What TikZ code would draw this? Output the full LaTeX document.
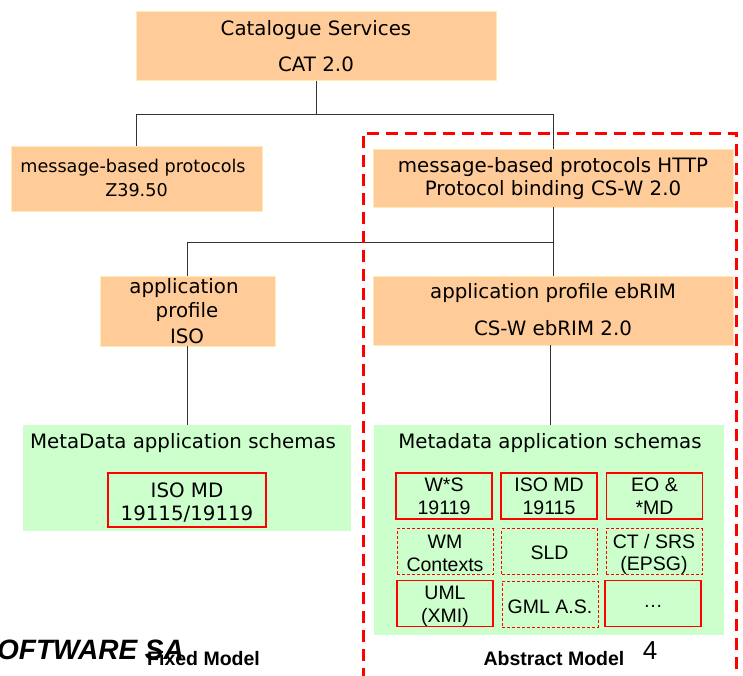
\documentclass[tikz,border=0pt]{standalone}
\usepackage{fontspec}
\setmainfont{DejaVu Sans}
\newfontfamily\arial{Liberation Sans}
\begin{document}
\begin{tikzpicture}[x=1pt,y=-1pt,
  peach/.style={rectangle,inner sep=0pt,outer sep=0pt,fill=peachc,draw=peachb,line width=0.8pt},
  green/.style={rectangle,inner sep=0pt,outer sep=0pt,fill=greenc},
  cell/.style={rectangle,inner sep=0pt,outer sep=0pt,draw=red,line width=1.1pt,minimum width=96pt,minimum height=46pt},
  dcell/.style={cell,line width=0.8pt,dash pattern=on 3pt off 2pt},
  txt/.style={inner sep=0pt,font=\fontsize{19.8}{22}\selectfont,anchor=center},
  stxt/.style={txt,font=\fontsize{17.6}{20}\selectfont},
  gtxt/.style={inner sep=0pt,font=\arial\fontsize{19.5}{21}\selectfont,anchor=center},
  conn/.style={draw=black!80,line width=1pt}]
\definecolor{peachc}{HTML}{FFCC99}
\definecolor{peachb}{HTML}{FFEBB5}
\definecolor{greenc}{HTML}{CCFFCC}
\useasboundingbox (0,0) rectangle (743,675);

% boxes
\node[peach,minimum width=360pt,minimum height=69pt] (cat) at (316,46) {};
\node[peach,minimum width=251pt,minimum height=65pt] (z39) at (136.5,178.5) {};
\node[peach,minimum width=360pt,minimum height=58pt] (http) at (553,178) {};
\node[peach,minimum width=175pt,minimum height=70pt] (iso) at (187.5,311) {};
\node[peach,minimum width=360pt,minimum height=69pt] (ebrim) at (553,310.5) {};
\node[green,minimum width=328pt,minimum height=106pt] (mdl) at (187,478) {};
\node[green,minimum width=350pt,minimum height=210pt] (mdr) at (549,530) {};
\node[cell,minimum width=158pt,minimum height=54pt] (isomd) at (187,500) {};

% grid cells
\node[cell] (c11) at (444,496) {};
\node[cell] (c12) at (549,496) {};
\node[cell] (c13) at (654.5,496) {};
\node[dcell] (c21) at (445,551.5) {};
\node[dcell] (c22) at (549.5,551.5) {};
\node[dcell] (c23) at (654,551.5) {};
\node[cell] (c31) at (445,603.5) {};
\node[dcell] (c32) at (550,604) {};
\node[cell] (c33) at (653,603.5) {};

% texts
\node[txt] (t1) at (316,30) {Catalogue Services};
\node[txt] (t2) at (316,64) {CAT 2.0};
\node[stxt] (t3) at (133,168) {message-based protocols};
\node[stxt] (t4) at (136.5,190) {Z39.50};
\node[txt] (t5) at (553,167) {message-based protocols HTTP};
\node[txt] (t6) at (553,190) {Protocol binding CS-W 2.0};
\node[txt] (t7) at (184,288) {application};
\node[txt] (t8) at (187,312) {profile};
\node[txt] (t9) at (187,336) {ISO};
\node[txt] (t10) at (553,293) {application profile ebRIM};
\node[txt] (t11) at (553,328) {CS-W ebRIM 2.0};
\node[txt] (t12) at (183,443) {MetaData application schemas};
\node[txt] (t13) at (187,490) {ISO MD};
\node[txt] (t14) at (187,514) {19115/19119};
\node[txt] (t15) at (550,443) {Metadata application schemas};

\node[gtxt] at (444,485) {W*S};
\node[gtxt] at (444,508) {19119};
\node[gtxt] at (549,485) {ISO MD};
\node[gtxt] at (549,508) {19115};
\node[gtxt] at (654.5,485) {EO \&};
\node[gtxt] at (654.5,508) {*MD};
\node[gtxt] at (445,542) {WM};
\node[gtxt] at (445,565) {Contexts};
\node[gtxt] at (549.5,553) {SLD};
\node[gtxt] at (654,542) {CT / SRS};
\node[gtxt] at (654,565) {(EPSG)};
\node[gtxt] at (445,593) {UML};
\node[gtxt] at (445,617) {(XMI)};
\node[gtxt] at (550,607) {GML A.S.};
\node[gtxt] at (653,606) {\dots};

% bottom labels
\node[inner sep=0pt,anchor=west,font=\arial\bfseries\itshape\fontsize{28}{30}\selectfont] (sw) at (-3,650) {OFTWARE SA};
\node[inner sep=0pt,anchor=west,font=\arial\bfseries\fontsize{19.5}{21}\selectfont] (fm) at (147,659) {Fixed Model};
\node[inner sep=0pt,font=\arial\bfseries\fontsize{19.5}{21}\selectfont] (am) at (554,659) {Abstract Model};
\node[inner sep=0pt,font=\arial\fontsize{26}{28}\selectfont] (pg) at (650,651) {4};

% connectors
\coordinate (j1) at (316,114);
\coordinate (j2) at (553,242);
\draw[conn] (cat.south) -- (j1) -| (z39.north);
\draw[conn] (j1) -| (http.north);
\draw[conn] (http.south) -- (j2) -| (iso.north);
\draw[conn] (j2) -- (ebrim.north);
\draw[conn] (iso.south) -- (iso.south |- mdl.north);
\draw[conn] (550,345) -- (550,425);

% red dashed frame
\draw[red,line width=3pt,dash pattern=on 12pt off 7pt] (363,680) -- (363,133) -- (736,133) -- (736,680);
\end{tikzpicture}
\end{document}
